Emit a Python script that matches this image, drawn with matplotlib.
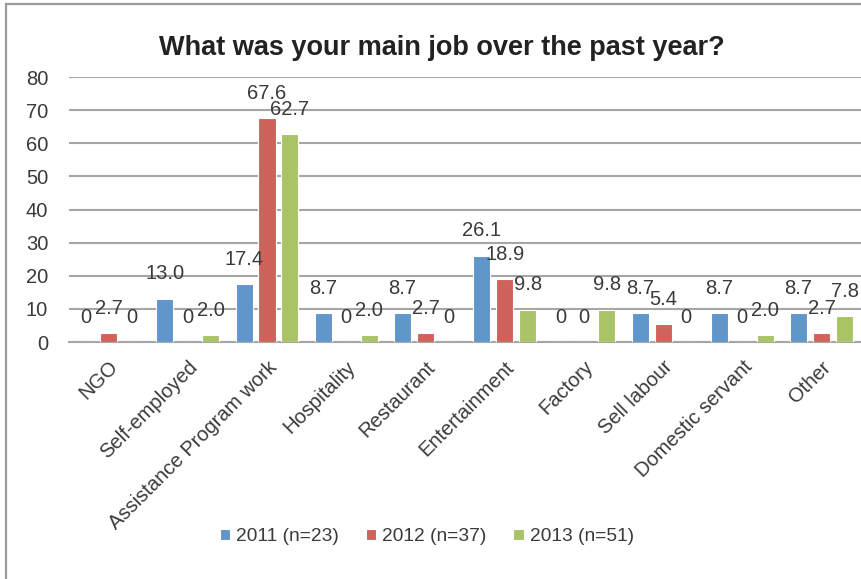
import matplotlib.pyplot as plt
import matplotlib.patches as patches
import numpy as np

# job categories and percentages per survey year
categories = ['NGO', 'Self-employed', 'Assistance Program work', 'Hospitality',
              'Restaurant', 'Entertainment', 'Factory', 'Sell labour',
              'Domestic servant', 'Other']
y2011 = [0, 13.0, 17.4, 8.7, 8.7, 26.1, 0, 8.7, 8.7, 8.7]
y2012 = [2.7, 0, 67.6, 0, 2.7, 18.9, 0, 5.4, 0, 2.7]
y2013 = [0, 2.0, 62.7, 2.0, 0, 9.8, 9.8, 0, 2.0, 7.8]
series_names = ['2011 (n=23)', '2012 (n=37)', '2013 (n=51)']
colors = ['#6096CA', '#D0625C', '#A8C467']

plt.rcParams['font.family'] = ['Liberation Sans', 'DejaVu Sans']
txt = '#3A3A3A'
grid_c = '#A6A6A6'
fs = 14.5

fig = plt.figure(figsize=(8.62, 5.79), dpi=100)
ax = fig.add_axes([0.080, 0.4093, 0.919, 0.4577])

x = np.arange(len(categories))
width = 0.215
step = 0.29

for i, (vals, name, c) in enumerate(zip([y2011, y2012, y2013], series_names, colors)):
    pos = x + (i - 1) * step
    ax.bar(pos, vals, width, color=c, edgecolor='white', linewidth=0.8,
           label=name, zorder=3)
    for px, v in zip(pos, vals):
        lab = '0' if v == 0 else f'{v:.1f}'
        ax.annotate(lab, (px, v), xytext=(0, 18), textcoords='offset points',
                    ha='center', va='center', fontsize=fs, color=txt, zorder=4)

ax.set_xlim(-0.5, len(categories) - 0.5)
ax.set_ylim(0, 80)
ax.set_yticks(range(0, 81, 10))
ax.yaxis.grid(True, color=grid_c, linewidth=1.5, zorder=0)
ax.set_axisbelow(True)
for s in ['top', 'right', 'left']:
    ax.spines[s].set_visible(False)
ax.spines['bottom'].set_color(grid_c)
ax.spines['bottom'].set_linewidth(1.5)
ax.tick_params(axis='y', length=0, pad=15, labelsize=fs, labelcolor=txt)
ax.tick_params(axis='x', length=0, pad=11)
ax.set_xticks(x)
ax.set_xticklabels(categories, rotation=45, ha='right', rotation_mode='anchor',
                   fontsize=fs, color=txt)

fig.text(0.513, 0.917, 'What was your main job over the past year?',
         ha='center', va='center', fontsize=19.5, fontweight='bold', color='#222222')

fig.legend(loc='center', bbox_to_anchor=(0.495, 0.073), ncol=3, frameon=False,
           fontsize=13.8, handlelength=0.55, handleheight=0.55, handletextpad=0.3,
           columnspacing=1.4, labelcolor=txt)

# outer frame of the chart area
fig.patches.append(patches.Rectangle((6.5 / 862, -0.1), 1.2, 1.1 - 4.5 / 579,
                                     transform=fig.transFigure, fill=False,
                                     edgecolor='#9A9A9A', linewidth=1.6))

fig.savefig('out.png', dpi=100)
